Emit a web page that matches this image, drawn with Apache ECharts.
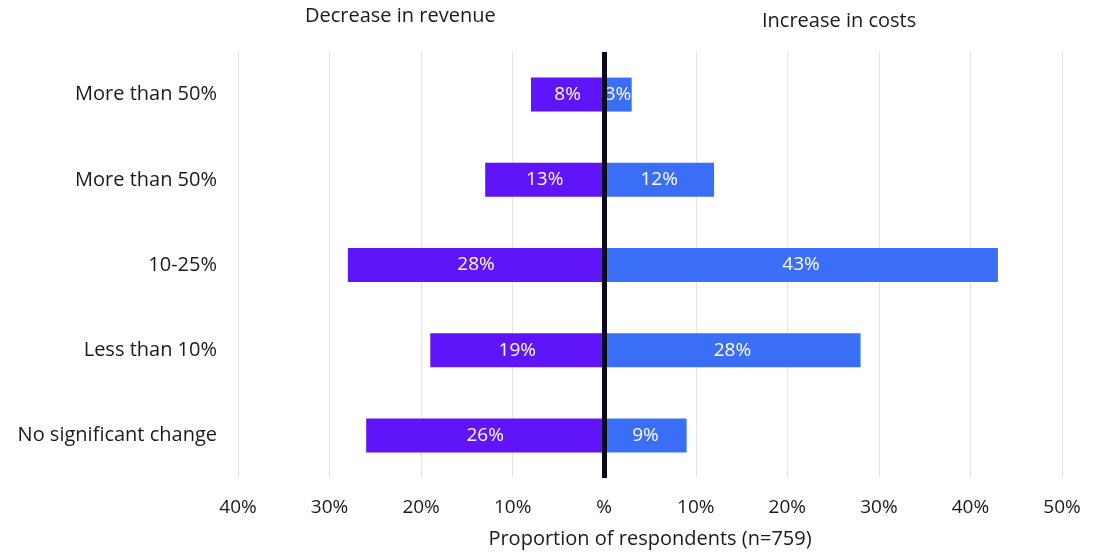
<!DOCTYPE html>
<html>
<head>
<meta charset="utf-8">
<style>
  html, body { margin: 0; padding: 0; background: #ffffff; }
  #chart { width: 1095px; height: 554px; }
</style>
<script src="https://cdn.jsdelivr.net/npm/echarts@6/dist/echarts.min.js"></script>
</head>
<body>
<div id="chart"></div>
<script>
// Size bands, top to bottom
const categories = ['More than 50%', 'More than 50%', '10-25%', 'Less than 10%', 'No significant change'];
// Share of respondents (%) reporting a fall in revenue
const revenueDecrease = [8, 13, 28, 19, 26];
// Share of respondents (%) reporting a rise in costs
const costIncrease = [3, 12, 43, 28, 9];
// Value-axis tick values and their printed labels
const tickValues = [-40, -30, -20, -10, 0, 10, 20, 30, 40, 50];
const tickLabels = ['40%', '30%', '20%', '10%', '%', '10%', '20%', '30%', '40%', '50%'];

const FONT = '"Open Sans", "Noto Sans", sans-serif';
const chart = echarts.init(document.getElementById('chart'));

const tickText = {};
tickValues.forEach((v, i) => { tickText[v] = tickLabels[i]; });

const barLabel = {
  show: true,
  position: 'inside',
  color: '#ffffff',
  fontFamily: FONT,
  fontSize: 19,
  formatter: p => Math.abs(p.value) + '%'
};

chart.setOption({
  animation: false,
  backgroundColor: '#ffffff',
  graphic: [
    { type: 'text', left: 305, top: 6,
      style: { text: 'Decrease in revenue', fontFamily: FONT, fontSize: 20, fill: '#1a1a1a' } },
    { type: 'text', left: 762, top: 11,
      style: { text: 'Increase in costs', fontFamily: FONT, fontSize: 20, fill: '#1a1a1a' } }
  ],
  grid: { left: 238, right: 33, top: 52, height: 437, containLabel: false },
  xAxis: {
    type: 'value',
    min: -40,
    max: 50,
    interval: 10,
    axisLine: { show: false },
    axisTick: { show: false },
    splitLine: { show: true, lineStyle: { color: '#e4e4e4', width: 1 } },
    axisLabel: {
      margin: 20,
      fontFamily: FONT,
      fontSize: 19,
      color: '#1a1a1a',
      formatter: v => tickText[v] !== undefined ? tickText[v] : ''
    },
    name: 'Proportion of respondents (n=759)',
    nameLocation: 'middle',
    nameGap: 51,
    nameTextStyle: { fontFamily: FONT, fontSize: 20, color: '#1a1a1a' }
  },
  yAxis: {
    type: 'category',
    inverse: true,
    data: categories,
    axisLine: { show: false },
    axisTick: { show: false },
    splitLine: { show: false },
    axisLabel: {
      margin: 21,
      fontFamily: FONT,
      fontSize: 20,
      color: '#1a1a1a'
    }
  },
  series: [
    {
      name: 'Decrease in revenue',
      type: 'bar',
      stack: 'both',
      barWidth: 34,
      data: revenueDecrease.map(v => -v),
      itemStyle: { color: '#5f14fa' },
      label: barLabel
    },
    {
      name: 'Increase in costs',
      type: 'bar',
      stack: 'both',
      barWidth: 34,
      data: costIncrease,
      itemStyle: { color: '#3b6ef6' },
      label: barLabel,
      markLine: {
        silent: true,
        symbol: 'none',
        label: { show: false },
        lineStyle: { color: '#0c0a1c', width: 5, type: 'solid' },
        data: [{ xAxis: 0 }]
      }
    }
  ]
});
</script>
</body>
</html>
